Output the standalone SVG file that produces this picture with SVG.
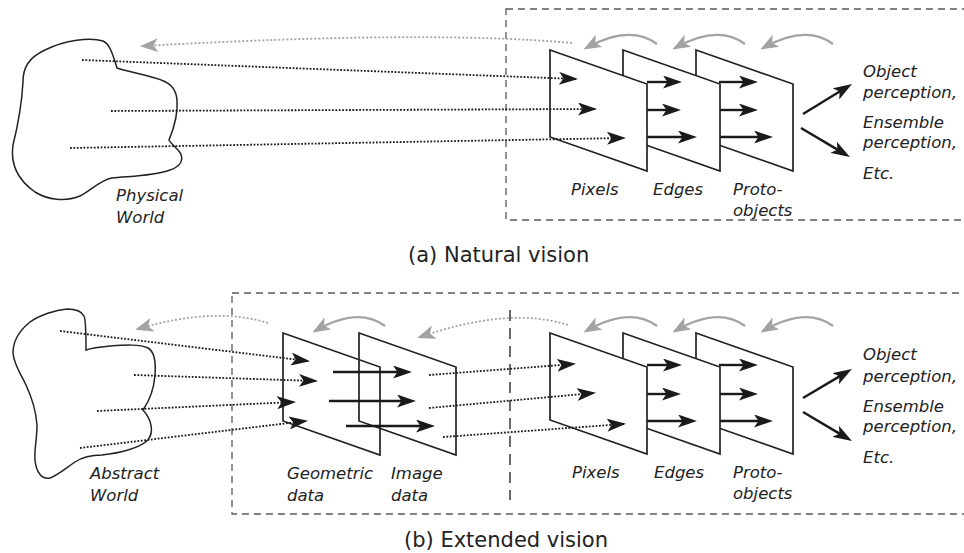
<svg xmlns="http://www.w3.org/2000/svg" width="964" height="553" viewBox="0 0 964 553">
<style>
.bg{fill:#fff}
.box{fill:none;stroke:#5a5a5a;stroke-width:1.3;stroke-dasharray:7 5}
.sep{fill:none;stroke:#444;stroke-width:1.6;stroke-dasharray:11 7}
.blob{fill:none;stroke:#222;stroke-width:1.5}
.plane{fill:#fff;stroke:#222;stroke-width:1.7;stroke-linejoin:miter}
.open{fill:none;stroke:#222;stroke-width:1.7}
.dot{fill:none;stroke:#1a1a1a;stroke-width:1.8;stroke-dasharray:1.8 1.6}
.sol{fill:none;stroke:#1a1a1a;stroke-width:2.4}
.gdot{fill:none;stroke:#a3a3a3;stroke-width:1.8;stroke-dasharray:2 2}
.garc{fill:none;stroke:#a3a3a3;stroke-width:2.3}
.lbl{font-family:"DejaVu Sans",Verdana,sans-serif;font-style:italic;font-size:16.5px;fill:#222}
.cap{font-family:"DejaVu Sans",Verdana,sans-serif;font-size:21px;fill:#222}
</style>
<defs>
<marker id="ab" markerUnits="userSpaceOnUse" viewBox="0 0 19 13" markerWidth="19" markerHeight="13" refX="5" refY="6.5" orient="auto"><path d="M0,0 L19,6.5 L0,13 L4.5,6.5 Z" fill="#1a1a1a"/></marker>
<marker id="ad" markerUnits="userSpaceOnUse" viewBox="0 0 19 13" markerWidth="19" markerHeight="13" refX="17" refY="6.5" orient="auto"><path d="M0,0 L19,6.5 L0,13 L4.5,6.5 Z" fill="#1a1a1a"/></marker>
<marker id="ag" markerUnits="userSpaceOnUse" viewBox="0 0 18 14" markerWidth="18" markerHeight="14" refX="15" refY="7" orient="auto"><path d="M0,0 L18,7 L0,14 L4.5,7 Z" fill="#a3a3a3"/></marker>
</defs>
<rect class="bg" x="0" y="0" width="964" height="553"/>

<!-- frames -->
<g id="frame-a"><rect class="box" x="506" y="9" width="470" height="211"/></g>
<g id="frame-b"><rect class="box" x="232" y="293" width="744" height="221"/><line class="sep" x1="510" y1="310" x2="510" y2="500"/></g>

<!-- (a) Natural vision -->
<g id="physical-world">
<path class="blob" d="M117,68 C113,55 110,44 103,41 C90,37 65,40 45,50 C28,58 23,68 23,82 C22,100 18,125 13,145 C10,165 18,180 35,192 C48,200 65,202 80,196 C92,190 100,180 112,178 C125,176 150,177 170,170 C185,165 184,155 176,148 C172,144 169,141 169,140 C174,128 178,112 177,100 C176,88 170,82 155,78 C140,73 125,71 117,68 Z"/>
<text class="lbl" x="116" y="201">Physical</text>
<text class="lbl" x="116" y="223">World</text>
</g>

<g id="proto-a">
<path class="plane" d="M696,50 L793,84 L793,171 L696,137 Z"/>
<line class="sol" x1="719" y1="82" x2="744" y2="82" marker-end="url(#ab)"/>
<line class="sol" x1="719" y1="110" x2="744" y2="110" marker-end="url(#ab)"/>
<line class="sol" x1="719" y1="137" x2="759" y2="137" marker-end="url(#ab)"/>
<text class="lbl" x="733" y="195">Proto-</text>
<text class="lbl" x="733" y="216">objects</text>
</g>
<g id="edges-a">
<path class="plane" d="M623,50 L720,84 L720,171 L623,137 Z"/>
<line class="sol" x1="647" y1="82" x2="668" y2="82" marker-end="url(#ab)"/>
<line class="sol" x1="647" y1="110" x2="667" y2="110" marker-end="url(#ab)"/>
<line class="sol" x1="647" y1="137" x2="683" y2="137" marker-end="url(#ab)"/>
<text class="lbl" x="653" y="195">Edges</text>
</g>
<g id="pixels-a">
<path class="plane" d="M550,50 L647,84 L647,171 L550,137 Z"/>
<text class="lbl" x="571" y="195">Pixels</text>
</g>

<g id="outputs-a">
<text class="lbl" x="863" y="77">Object</text>
<text class="lbl" x="863" y="98">perception,</text>
<text class="lbl" x="863" y="128">Ensemble</text>
<text class="lbl" x="863" y="148">perception,</text>
<text class="lbl" x="863" y="179">Etc.</text>
</g>

<!-- (b) Extended vision -->
<g id="abstract-world">
<path class="blob" d="M86,350 C86,335 86,320 84,316 C81,310 74,309 67,309 C55,310 40,315 30,322 C20,330 13,340 13,353 C14,365 20,372 26,385 C32,398 36,410 37,425 C37,440 34,450 35,460 C36,472 42,480 50,478 C58,475 66,468 75,462 C84,456 92,455 102,455 C120,453 140,448 148,440 C154,432 152,420 143,410 C150,400 154,388 155,375 C156,362 155,352 148,348 C140,344 125,345 110,346 C100,347 92,348 86,350 Z"/>
<text class="lbl" x="90" y="479">Abstract</text>
<text class="lbl" x="90" y="501">World</text>
</g>

<g id="geometric-data">
<path class="open" d="M283,333 L380,367 L380,455 L283,421 Z"/>
<text class="lbl" x="287" y="479">Geometric</text>
<text class="lbl" x="287" y="501">data</text>
</g>
<g id="image-data">
<path class="open" d="M359,333 L456,367 L456,455 L359,421 Z"/>
<text class="lbl" x="391" y="479">Image</text>
<text class="lbl" x="391" y="501">data</text>
</g>

<g id="proto-b">
<path class="plane" d="M696,333 L793,367 L793,454 L696,420 Z"/>
<line class="sol" x1="719" y1="365" x2="744" y2="365" marker-end="url(#ab)"/>
<line class="sol" x1="719" y1="394" x2="744" y2="394" marker-end="url(#ab)"/>
<line class="sol" x1="719" y1="421" x2="759" y2="421" marker-end="url(#ab)"/>
<text class="lbl" x="733" y="478">Proto-</text>
<text class="lbl" x="733" y="499">objects</text>
</g>
<g id="edges-b">
<path class="plane" d="M623,333 L720,367 L720,454 L623,420 Z"/>
<line class="sol" x1="647" y1="365" x2="668" y2="365" marker-end="url(#ab)"/>
<line class="sol" x1="647" y1="394" x2="667" y2="394" marker-end="url(#ab)"/>
<line class="sol" x1="647" y1="421" x2="683" y2="421" marker-end="url(#ab)"/>
<text class="lbl" x="654" y="478">Edges</text>
</g>
<g id="pixels-b">
<path class="plane" d="M550,333 L647,367 L647,454 L550,420 Z"/>
<text class="lbl" x="572" y="478">Pixels</text>
</g>

<g id="outputs-b">
<text class="lbl" x="863" y="360">Object</text>
<text class="lbl" x="863" y="382">perception,</text>
<text class="lbl" x="863" y="412">Ensemble</text>
<text class="lbl" x="863" y="432">perception,</text>
<text class="lbl" x="863" y="463">Etc.</text>
</g>

<!-- connectors -->
<g id="connectors">
<!-- (a) -->
<path class="gdot" d="M572,43 Q430,30 143,46" marker-end="url(#ag)"/>
<path class="garc" d="M657,44 Q630,24 586,48" marker-end="url(#ag)"/>
<path class="garc" d="M745,44 Q718,24 675,48" marker-end="url(#ag)"/>
<path class="garc" d="M833,44 Q806,24 763,48" marker-end="url(#ag)"/>
<line class="dot" x1="82" y1="60" x2="576" y2="79" marker-end="url(#ad)"/>
<line class="dot" x1="111" y1="111" x2="595" y2="109" marker-end="url(#ad)"/>
<line class="dot" x1="70" y1="148" x2="624" y2="138" marker-end="url(#ad)"/>
<line class="sol" x1="803" y1="114" x2="840.1" y2="91.3" marker-end="url(#ab)"/>
<line class="sol" x1="801" y1="128" x2="837.9" y2="149.9" marker-end="url(#ab)"/>
<!-- (b) -->
<path class="gdot" d="M268,323 Q215,306 138,329" marker-end="url(#ag)"/>
<path class="garc" d="M385,326 Q358,306 315,331" marker-end="url(#ag)"/>
<path class="gdot" d="M568,325 Q510,306 420,337" marker-end="url(#ag)"/>
<path class="garc" d="M657,326 Q630,306 586,331" marker-end="url(#ag)"/>
<path class="garc" d="M745,326 Q718,306 675,331" marker-end="url(#ag)"/>
<path class="garc" d="M833,326 Q806,306 763,331" marker-end="url(#ag)"/>
<line class="dot" x1="60" y1="331" x2="308" y2="361" marker-end="url(#ad)"/>
<line class="dot" x1="134" y1="375" x2="316" y2="381" marker-end="url(#ad)"/>
<line class="dot" x1="97" y1="411" x2="294" y2="402" marker-end="url(#ad)"/>
<line class="dot" x1="80" y1="448" x2="306" y2="421" marker-end="url(#ad)"/>
<line class="sol" x1="333" y1="372" x2="398" y2="372" marker-end="url(#ab)"/>
<line class="sol" x1="329" y1="401" x2="402" y2="401" marker-end="url(#ab)"/>
<line class="sol" x1="346" y1="426" x2="421" y2="426" marker-end="url(#ab)"/>
<line class="dot" x1="429" y1="375" x2="574" y2="364" marker-end="url(#ad)"/>
<line class="dot" x1="429" y1="408" x2="594" y2="393" marker-end="url(#ad)"/>
<line class="dot" x1="443" y1="437" x2="624" y2="424" marker-end="url(#ad)"/>
<line class="sol" x1="803" y1="398" x2="839.9" y2="376.1" marker-end="url(#ab)"/>
<line class="sol" x1="803" y1="412" x2="839.9" y2="433.9" marker-end="url(#ab)"/>
</g>

<g id="captions">
<text class="cap" x="408" y="262">(a) Natural vision</text>
<text class="cap" x="404" y="547">(b) Extended vision</text>
</g>
</svg>
